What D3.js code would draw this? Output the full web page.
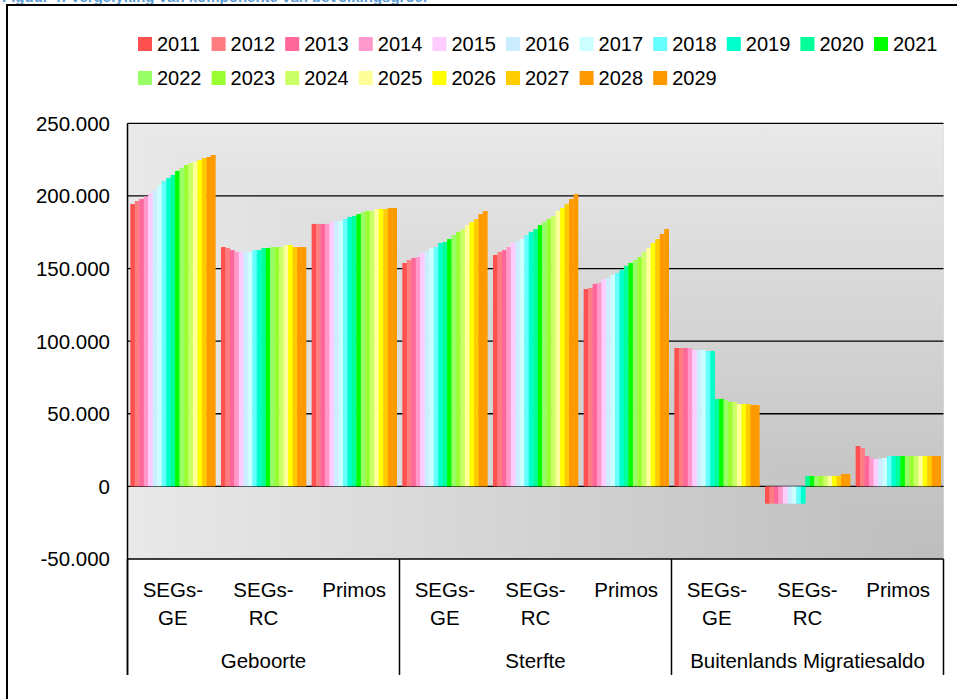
<!DOCTYPE html>
<html>
<head>
<meta charset="utf-8">
<script src="https://cdn.jsdelivr.net/npm/d3@7"></script>
<style>
  body { margin: 0; background: #fff; }
  svg { display: block; font-family: "Liberation Sans", Arial, sans-serif; }
</style>
</head>
<body>
<script>
// Chart data
const years = ["2011", "2012", "2013", "2014", "2015", "2016", "2017", "2018", "2019", "2020",
               "2021", "2022", "2023", "2024", "2025", "2026", "2027", "2028", "2029"];
const yearColors = ["#FF5050", "#FF7C80", "#FF6699", "#FF99CC", "#FFCCFF", "#CCECFF", "#CCFFFF",
                    "#66FFFF", "#00FFCC", "#00FF99", "#00FF00", "#99FF66", "#99FF33", "#CCFF66",
                    "#FFFF99", "#FFFF00", "#FFCC00", "#FF9900", "#FF9900"];
const groups = ["Geboorte", "Sterfte", "Buitenlands Migratiesaldo"];
const subCategories = [["SEGs-", "GE"], ["SEGs-", "RC"], ["Primos"]];
const yTicks = [-50000, 0, 50000, 100000, 150000, 200000, 250000];

const geboorteSegsGE = [194400, 196500, 197900, 199700, 202000, 204100, 207500, 210300, 212300, 214400,
                        217200, 219200, 221300, 222700, 223400, 224700, 226100, 226800, 228200];
const geboorteSegsRC = [164800, 164100, 162700, 161400, 161400, 161400, 161400, 162700, 162700, 164100,
                        164100, 164800, 164800, 164800, 166200, 166200, 164800, 164800, 164800];
const geboortePrimos = [180700, 180700, 180700, 180700, 182100, 182700, 182700, 184100, 185500, 186200,
                        187500, 188900, 189600, 189600, 191000, 191000, 191000, 191700, 191700];
const sterfteSegsGE = [153800, 155900, 157300, 157900, 160700, 162100, 164100, 164800, 167600, 168300,
                       170300, 173100, 175200, 177200, 180000, 182100, 184100, 187500, 189600];
const sterfteSegsRC = [159300, 161400, 162700, 164800, 167600, 169000, 170300, 173100, 175200, 177200,
                       180000, 182100, 184100, 186200, 189600, 191700, 194400, 197900, 201300];
const sterftePrimos = [135900, 136600, 139400, 140100, 142800, 143500, 145600, 147000, 149100, 151800,
                       153800, 155900, 157900, 161400, 164100, 167600, 170300, 173800, 177200];
const migratieSegsGE = [95300, 95300, 95300, 95300, 93900, 93900, 93900, 93200, 93200, 60200,
                        60200, 59500, 58100, 58100, 56700, 56700, 56700, 56000, 56000];
const migratieSegsRC = [-11900, -11900, -11900, -11900, -11900, -11900, -11900, -11900, -11900, 7200,
                        7200, 7200, 7200, 7200, 7200, 7200, 7200, 8500, 8500];
const migratiePrimos = [27800, 26400, 20900, 19600, 18900, 19200, 19600, 20900, 20900, 20900,
                        20900, 20900, 20900, 20900, 20900, 20900, 20900, 20900, 20900];

// One row per category, in drawing order
const seriesByCategory = [geboorteSegsGE, geboorteSegsRC, geboortePrimos,
                          sterfteSegsGE, sterfteSegsRC, sterftePrimos,
                          migratieSegsGE, migratieSegsRC, migratiePrimos];
const categories = seriesByCategory.map((values, i) => ({
    key: "c" + i,
    group: groups[Math.floor(i / 3)],
    label: subCategories[i % 3],
    values: values
}));

const width = 957, height = 699;
const plotLeft = 127.5, plotRight = 943.5, plotTop = 123.3, plotBottom = 559;
const axisBottom = 675;

const svg = d3.select("body").append("svg")
    .attr("width", width)
    .attr("height", height);

// Title (cut off at the top of the picture, as in the original)
svg.append("text")
    .attr("x", 2)
    .attr("y", 2)
    .attr("fill", "#5B9BD5")
    .style("font-weight", "bold")
    .style("font-size", "15px")
    .text("Figuur 4: Vergelyking van komponente van bevolkingsgroei");

// Outer frame
svg.append("rect")
    .attr("x", 7)
    .attr("y", 5)
    .attr("width", 1000)
    .attr("height", 800)
    .attr("fill", "none")
    .attr("stroke", "#000")
    .attr("stroke-width", 2);

// Scales
const x0 = d3.scaleBand()
    .domain(categories.map(d => d.key))
    .range([plotLeft, plotRight]);
const gap = x0.bandwidth() * 0.031;
const x1 = d3.scaleBand()
    .domain(years)
    .range([gap, x0.bandwidth() - gap]);
const y = d3.scaleLinear()
    .domain([-50000, 250000])
    .range([plotBottom, plotTop]);
const color = d3.scaleOrdinal().domain(years).range(yearColors);

const nl = d3.formatLocale({ decimal: ",", thousands: ".", grouping: [3], currency: ["", ""], minus: "-" });
const fmt = nl.format(",");

// Plot background: corner gradient (light top/left, darker towards bottom-right)
const defs = svg.append("defs");
const gH = defs.append("linearGradient").attr("id", "bgH").attr("x1", 0).attr("x2", 1).attr("y1", 0).attr("y2", 0);
gH.append("stop").attr("offset", "0%").attr("stop-color", "#e9e9e9");
gH.append("stop").attr("offset", "100%").attr("stop-color", "#bdbdbd");
const gV = defs.append("linearGradient").attr("id", "bgV").attr("x1", 0).attr("x2", 0).attr("y1", 0).attr("y2", 1);
gV.append("stop").attr("offset", "0%").attr("stop-color", "#e9e9e9");
gV.append("stop").attr("offset", "100%").attr("stop-color", "#bdbdbd");

const bg = svg.append("g").style("isolation", "isolate");
bg.append("rect")
    .attr("x", plotLeft).attr("y", plotTop)
    .attr("width", plotRight - plotLeft).attr("height", plotBottom - plotTop)
    .attr("fill", "url(#bgH)");
bg.append("rect")
    .attr("x", plotLeft).attr("y", plotTop)
    .attr("width", plotRight - plotLeft).attr("height", plotBottom - plotTop)
    .attr("fill", "url(#bgV)")
    .style("mix-blend-mode", "lighten");

// Gridlines
svg.append("g")
    .selectAll("line")
    .data(yTicks)
    .enter().append("line")
    .attr("x1", plotLeft)
    .attr("x2", plotRight)
    .attr("y1", d => y(d))
    .attr("y2", d => y(d))
    .attr("stroke", "#000")
    .attr("stroke-width", 1.3);

// Bars
const catGroups = svg.append("g")
    .selectAll("g")
    .data(categories)
    .enter().append("g")
    .attr("transform", d => `translate(${x0(d.key)},0)`);

catGroups.selectAll("rect")
    .data(d => d.values.map((v, i) => ({ year: years[i], value: v })))
    .enter().append("rect")
    .attr("x", d => x1(d.year))
    .attr("width", x1.bandwidth() + 0.3)
    .attr("y", d => y(Math.max(0, d.value)))
    .attr("height", d => Math.abs(y(d.value) - y(0)))
    .attr("fill", d => color(d.year));

// Y axis line and labels
svg.append("line")
    .attr("x1", plotLeft).attr("x2", plotLeft)
    .attr("y1", plotTop).attr("y2", axisBottom)
    .attr("stroke", "#000")
    .attr("stroke-width", 1.5);

svg.append("g")
    .selectAll("text")
    .data(yTicks)
    .enter().append("text")
    .attr("x", 110)
    .attr("y", d => y(d))
    .attr("dy", "0.36em")
    .attr("text-anchor", "end")
    .style("font-size", "20.5px")
    .attr("fill", "#000")
    .text(d => fmt(d));

// Category axis: separators between groups
const groupEdges = [0, 3, 6].map(i => x0(categories[i].key)).concat([plotRight]);
svg.append("g")
    .selectAll("line")
    .data(groupEdges)
    .enter().append("line")
    .attr("x1", d => d).attr("x2", d => d)
    .attr("y1", plotBottom).attr("y2", axisBottom)
    .attr("stroke", "#000")
    .attr("stroke-width", 1.5);

// Sub category labels
const subLabels = svg.append("g")
    .selectAll("text")
    .data(categories)
    .enter().append("text")
    .attr("x", d => x0(d.key) + x0.bandwidth() / 2)
    .attr("text-anchor", "middle")
    .style("font-size", "20.5px")
    .attr("fill", "#000");

subLabels.selectAll("tspan")
    .data(d => d.label)
    .enter().append("tspan")
    .attr("x", function() { return d3.select(this.parentNode).attr("x"); })
    .attr("y", (d, i) => 597 + i * 27.5)
    .text(d => d);

// Group labels
svg.append("g")
    .selectAll("text")
    .data(groups)
    .enter().append("text")
    .attr("x", (d, i) => (groupEdges[i] + groupEdges[i + 1]) / 2)
    .attr("y", 668)
    .attr("text-anchor", "middle")
    .style("font-size", "20.5px")
    .attr("fill", "#000")
    .text(d => d);

// Legend: two rows
const legendItems = svg.append("g")
    .selectAll("g")
    .data(years)
    .enter().append("g")
    .attr("transform", (d, i) => `translate(${138 + (i % 11) * 73.6}, ${i < 11 ? 44 : 78})`);

legendItems.append("rect")
    .attr("x", 0)
    .attr("y", -7)
    .attr("width", 14)
    .attr("height", 14)
    .attr("fill", d => color(d));

legendItems.append("text")
    .attr("x", 19)
    .attr("y", 0)
    .attr("dy", "0.36em")
    .style("font-size", "20px")
    .attr("fill", "#000")
    .text(d => d);
</script>
</body>
</html>
